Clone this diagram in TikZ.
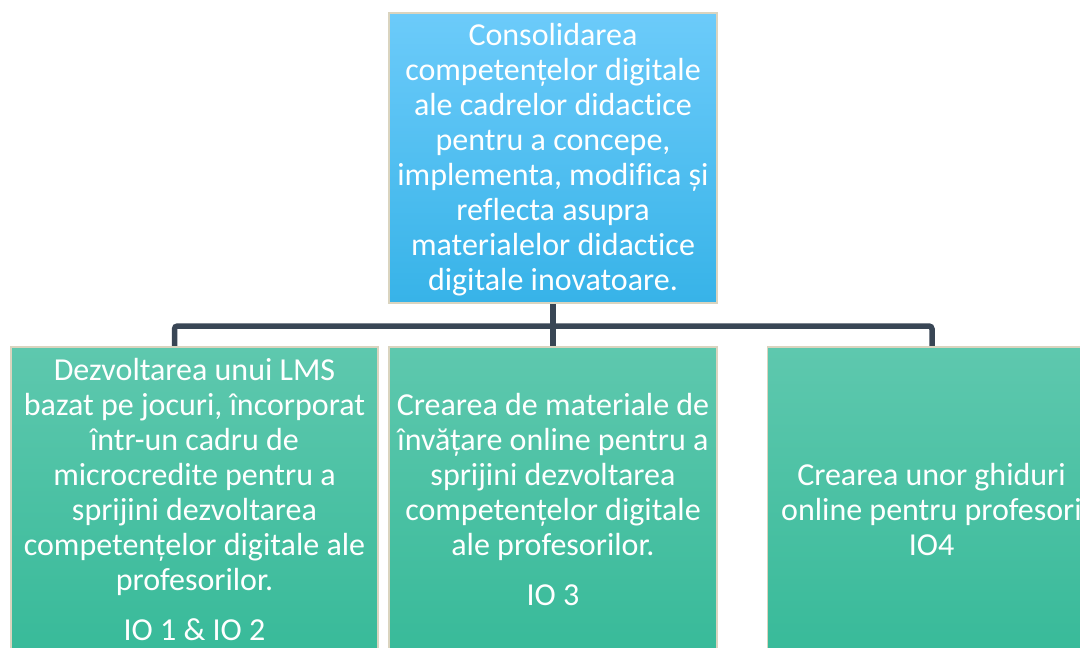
\documentclass[tikz,border=0pt]{standalone}
\usepackage{fontspec}
\setmainfont{Carlito}[Ligatures={TeX,NoCommon}]
\definecolor{bluetop}{HTML}{6CCBFA}
\definecolor{bluebot}{HTML}{37B3E8}
\definecolor{greentop}{HTML}{5EC8AE}
\definecolor{greenbot}{HTML}{32B896}
\definecolor{edgebeige}{HTML}{DAD4BF}
\definecolor{connclr}{HTML}{394655}
\newcommand{\firststrut}{\rule{0pt}{28pt}}
\tikzset{
  boxbase/.style={rectangle, draw=edgebeige, line width=1.5pt, inner sep=0pt, minimum width=328pt},
  bluebox/.style={boxbase, top color=bluetop, bottom color=bluebot},
  greenbox/.style={boxbase, top color=greentop, bottom color=greenbot},
  boxtext/.style={anchor=north, inner sep=0pt, align=center, text=white, font=\fontsize{32}{35}\selectfont},
  conn/.style={draw=connclr, line width=5.5pt, rounded corners=3pt}
}
\begin{document}
\begin{tikzpicture}[x=1pt, y=-1pt]
\useasboundingbox (0,0) rectangle (1080,648);
\fill[white] (0,0) rectangle (1080,648);
\clip (0,0) rectangle (1080,648);
% boxes (empty, named)
\node[bluebox, minimum height=290pt] (top) at (553,158) {};
\node[greenbox, minimum width=367pt, minimum height=353pt] (left) at (194.5,523.5) {};
\node[greenbox, minimum height=353pt] (mid) at (553,523.5) {};
\node[greenbox, minimum height=353pt] (right) at (931.5,523.5) {};
% connectors
\coordinate (hub) at (553,326);
\coordinate (lx) at (174.5,347);
\coordinate (rx) at (932,347);
\draw[conn] (lx) -- (lx |- hub) -- (rx |- hub) -- (rx);
\draw[conn] (top.south) -- (mid.north);
% redraw box tops over the connector ends
\node[bluebox, minimum height=290pt] at (553,158) {};
\node[greenbox, minimum width=367pt, minimum height=353pt] at (194.5,523.5) {};
\node[greenbox, minimum height=353pt] at (553,523.5) {};
\node[greenbox, minimum height=353pt] at (931.5,523.5) {};
% texts
\node[boxtext] (toptext) at (553,17) {\firststrut Consolidarea\\competențelor digitale\\ale cadrelor didactice\\pentru a concepe,\\implementa, modifica și\\reflecta asupra\\materialelor didactice\\digitale inovatoare.};
\node[boxtext] (lefttext) at (194.5,352) {\firststrut Dezvoltarea unui LMS\\bazat pe jocuri, încorporat\\într-un cadru de\\microcredite pentru a\\sprijini dezvoltarea\\competențelor digitale ale\\profesorilor.\\[15pt]IO 1 \& IO 2};
\node[boxtext] (midtext) at (553,387) {\firststrut Crearea de materiale de\\învățare online pentru a\\sprijini dezvoltarea\\competențelor digitale\\ale profesorilor.\\[15pt]IO 3};
\node[boxtext] (righttext) at (931.5,457) {\firststrut Crearea unor ghiduri\\online pentru profesori\\IO4};
\end{tikzpicture}
\end{document}
